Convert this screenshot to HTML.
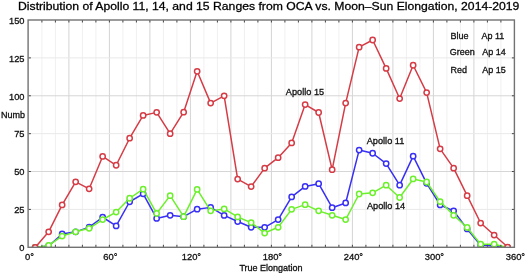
<!DOCTYPE html>
<html><head><meta charset="utf-8"><style>
html,body{margin:0;padding:0;background:#fff;}
body{width:525px;height:273px;overflow:hidden;}
svg{display:block;font-family:"Liberation Sans",sans-serif;}
</style></head><body>
<svg width="525" height="273" viewBox="0 0 525 273">
<rect width="525" height="273" fill="#fff"/>
<defs><clipPath id="c"><rect x="28.40" y="20.00" width="486.00" height="227.30"/></clipPath></defs>
<line x1="41.90" y1="20.00" x2="41.90" y2="247.30" stroke="#f0f0f0" stroke-width="1"/>
<line x1="55.40" y1="20.00" x2="55.40" y2="247.30" stroke="#f0f0f0" stroke-width="1"/>
<line x1="68.90" y1="20.00" x2="68.90" y2="247.30" stroke="#d4d4d4" stroke-width="1"/>
<line x1="82.40" y1="20.00" x2="82.40" y2="247.30" stroke="#f0f0f0" stroke-width="1"/>
<line x1="95.90" y1="20.00" x2="95.90" y2="247.30" stroke="#f0f0f0" stroke-width="1"/>
<line x1="109.40" y1="20.00" x2="109.40" y2="247.30" stroke="#d4d4d4" stroke-width="1"/>
<line x1="122.90" y1="20.00" x2="122.90" y2="247.30" stroke="#f0f0f0" stroke-width="1"/>
<line x1="136.40" y1="20.00" x2="136.40" y2="247.30" stroke="#f0f0f0" stroke-width="1"/>
<line x1="149.90" y1="20.00" x2="149.90" y2="247.30" stroke="#d4d4d4" stroke-width="1"/>
<line x1="163.40" y1="20.00" x2="163.40" y2="247.30" stroke="#f0f0f0" stroke-width="1"/>
<line x1="176.90" y1="20.00" x2="176.90" y2="247.30" stroke="#f0f0f0" stroke-width="1"/>
<line x1="190.40" y1="20.00" x2="190.40" y2="247.30" stroke="#d4d4d4" stroke-width="1"/>
<line x1="203.90" y1="20.00" x2="203.90" y2="247.30" stroke="#f0f0f0" stroke-width="1"/>
<line x1="217.40" y1="20.00" x2="217.40" y2="247.30" stroke="#f0f0f0" stroke-width="1"/>
<line x1="230.90" y1="20.00" x2="230.90" y2="247.30" stroke="#d4d4d4" stroke-width="1"/>
<line x1="244.40" y1="20.00" x2="244.40" y2="247.30" stroke="#f0f0f0" stroke-width="1"/>
<line x1="257.90" y1="20.00" x2="257.90" y2="247.30" stroke="#f0f0f0" stroke-width="1"/>
<line x1="271.40" y1="20.00" x2="271.40" y2="247.30" stroke="#d4d4d4" stroke-width="1"/>
<line x1="284.90" y1="20.00" x2="284.90" y2="247.30" stroke="#f0f0f0" stroke-width="1"/>
<line x1="298.40" y1="20.00" x2="298.40" y2="247.30" stroke="#f0f0f0" stroke-width="1"/>
<line x1="311.90" y1="20.00" x2="311.90" y2="247.30" stroke="#d4d4d4" stroke-width="1"/>
<line x1="325.40" y1="20.00" x2="325.40" y2="247.30" stroke="#f0f0f0" stroke-width="1"/>
<line x1="338.90" y1="20.00" x2="338.90" y2="247.30" stroke="#f0f0f0" stroke-width="1"/>
<line x1="352.40" y1="20.00" x2="352.40" y2="247.30" stroke="#d4d4d4" stroke-width="1"/>
<line x1="365.90" y1="20.00" x2="365.90" y2="247.30" stroke="#f0f0f0" stroke-width="1"/>
<line x1="379.40" y1="20.00" x2="379.40" y2="247.30" stroke="#f0f0f0" stroke-width="1"/>
<line x1="392.90" y1="20.00" x2="392.90" y2="247.30" stroke="#d4d4d4" stroke-width="1"/>
<line x1="406.40" y1="20.00" x2="406.40" y2="247.30" stroke="#f0f0f0" stroke-width="1"/>
<line x1="419.90" y1="20.00" x2="419.90" y2="247.30" stroke="#f0f0f0" stroke-width="1"/>
<line x1="433.40" y1="20.00" x2="433.40" y2="247.30" stroke="#d4d4d4" stroke-width="1"/>
<line x1="446.90" y1="20.00" x2="446.90" y2="247.30" stroke="#f0f0f0" stroke-width="1"/>
<line x1="460.40" y1="20.00" x2="460.40" y2="247.30" stroke="#f0f0f0" stroke-width="1"/>
<line x1="473.90" y1="20.00" x2="473.90" y2="247.30" stroke="#d4d4d4" stroke-width="1"/>
<line x1="487.40" y1="20.00" x2="487.40" y2="247.30" stroke="#f0f0f0" stroke-width="1"/>
<line x1="500.90" y1="20.00" x2="500.90" y2="247.30" stroke="#f0f0f0" stroke-width="1"/>
<line x1="28.40" y1="209.42" x2="514.40" y2="209.42" stroke="#e9e9e9" stroke-width="1"/>
<line x1="28.40" y1="171.53" x2="514.40" y2="171.53" stroke="#d6d6d6" stroke-width="1"/>
<line x1="28.40" y1="133.65" x2="514.40" y2="133.65" stroke="#e9e9e9" stroke-width="1"/>
<line x1="28.40" y1="95.77" x2="514.40" y2="95.77" stroke="#d6d6d6" stroke-width="1"/>
<line x1="28.40" y1="57.88" x2="514.40" y2="57.88" stroke="#e9e9e9" stroke-width="1"/>
<g clip-path="url(#c)">
<polyline fill="none" stroke="#3830f5" stroke-width="1.5" stroke-linejoin="round" points="35.15,247.50 48.65,245.98 62.15,233.97 75.65,231.84 89.15,227.13 102.65,217.25 116.15,225.92 129.65,201.75 143.15,193.84 156.65,218.47 170.15,215.28 183.65,216.64 197.15,209.20 210.65,207.37 224.15,215.43 237.65,221.51 251.15,227.28 264.65,227.28 278.15,219.53 291.65,196.88 305.15,186.40 318.65,183.66 332.15,207.68 345.65,202.96 359.15,150.07 372.65,153.26 386.15,163.60 399.65,185.18 413.15,156.15 426.65,183.36 440.15,204.94 453.65,210.87 467.15,228.96 480.65,245.22 494.15,245.98 507.65,247.50"/><circle cx="35.15" cy="247.50" r="2.65" fill="#fff" stroke="#3830f5" stroke-width="1.5"/><circle cx="48.65" cy="245.98" r="2.65" fill="#fff" stroke="#3830f5" stroke-width="1.5"/><circle cx="62.15" cy="233.97" r="2.65" fill="#fff" stroke="#3830f5" stroke-width="1.5"/><circle cx="75.65" cy="231.84" r="2.65" fill="#fff" stroke="#3830f5" stroke-width="1.5"/><circle cx="89.15" cy="227.13" r="2.65" fill="#fff" stroke="#3830f5" stroke-width="1.5"/><circle cx="102.65" cy="217.25" r="2.65" fill="#fff" stroke="#3830f5" stroke-width="1.5"/><circle cx="116.15" cy="225.92" r="2.65" fill="#fff" stroke="#3830f5" stroke-width="1.5"/><circle cx="129.65" cy="201.75" r="2.65" fill="#fff" stroke="#3830f5" stroke-width="1.5"/><circle cx="143.15" cy="193.84" r="2.65" fill="#fff" stroke="#3830f5" stroke-width="1.5"/><circle cx="156.65" cy="218.47" r="2.65" fill="#fff" stroke="#3830f5" stroke-width="1.5"/><circle cx="170.15" cy="215.28" r="2.65" fill="#fff" stroke="#3830f5" stroke-width="1.5"/><circle cx="183.65" cy="216.64" r="2.65" fill="#fff" stroke="#3830f5" stroke-width="1.5"/><circle cx="197.15" cy="209.20" r="2.65" fill="#fff" stroke="#3830f5" stroke-width="1.5"/><circle cx="210.65" cy="207.37" r="2.65" fill="#fff" stroke="#3830f5" stroke-width="1.5"/><circle cx="224.15" cy="215.43" r="2.65" fill="#fff" stroke="#3830f5" stroke-width="1.5"/><circle cx="237.65" cy="221.51" r="2.65" fill="#fff" stroke="#3830f5" stroke-width="1.5"/><circle cx="251.15" cy="227.28" r="2.65" fill="#fff" stroke="#3830f5" stroke-width="1.5"/><circle cx="264.65" cy="227.28" r="2.65" fill="#fff" stroke="#3830f5" stroke-width="1.5"/><circle cx="278.15" cy="219.53" r="2.65" fill="#fff" stroke="#3830f5" stroke-width="1.5"/><circle cx="291.65" cy="196.88" r="2.65" fill="#fff" stroke="#3830f5" stroke-width="1.5"/><circle cx="305.15" cy="186.40" r="2.65" fill="#fff" stroke="#3830f5" stroke-width="1.5"/><circle cx="318.65" cy="183.66" r="2.65" fill="#fff" stroke="#3830f5" stroke-width="1.5"/><circle cx="332.15" cy="207.68" r="2.65" fill="#fff" stroke="#3830f5" stroke-width="1.5"/><circle cx="345.65" cy="202.96" r="2.65" fill="#fff" stroke="#3830f5" stroke-width="1.5"/><circle cx="359.15" cy="150.07" r="2.65" fill="#fff" stroke="#3830f5" stroke-width="1.5"/><circle cx="372.65" cy="153.26" r="2.65" fill="#fff" stroke="#3830f5" stroke-width="1.5"/><circle cx="386.15" cy="163.60" r="2.65" fill="#fff" stroke="#3830f5" stroke-width="1.5"/><circle cx="399.65" cy="185.18" r="2.65" fill="#fff" stroke="#3830f5" stroke-width="1.5"/><circle cx="413.15" cy="156.15" r="2.65" fill="#fff" stroke="#3830f5" stroke-width="1.5"/><circle cx="426.65" cy="183.36" r="2.65" fill="#fff" stroke="#3830f5" stroke-width="1.5"/><circle cx="440.15" cy="204.94" r="2.65" fill="#fff" stroke="#3830f5" stroke-width="1.5"/><circle cx="453.65" cy="210.87" r="2.65" fill="#fff" stroke="#3830f5" stroke-width="1.5"/><circle cx="467.15" cy="228.96" r="2.65" fill="#fff" stroke="#3830f5" stroke-width="1.5"/><circle cx="480.65" cy="245.22" r="2.65" fill="#fff" stroke="#3830f5" stroke-width="1.5"/><circle cx="494.15" cy="245.98" r="2.65" fill="#fff" stroke="#3830f5" stroke-width="1.5"/><circle cx="507.65" cy="247.50" r="2.65" fill="#fff" stroke="#3830f5" stroke-width="1.5"/>
<polyline fill="none" stroke="#6cf02c" stroke-width="1.5" stroke-linejoin="round" points="35.15,247.50 48.65,245.37 62.15,236.10 75.65,231.84 89.15,228.35 102.65,219.53 116.15,212.08 129.65,198.25 143.15,189.13 156.65,213.45 170.15,195.67 183.65,216.64 197.15,189.44 210.65,210.87 224.15,208.89 237.65,216.95 251.15,222.57 264.65,233.06 278.15,227.28 291.65,209.35 305.15,204.64 318.65,210.87 332.15,215.28 345.65,219.53 359.15,194.00 372.65,192.78 386.15,185.18 399.65,197.49 413.15,178.95 426.65,181.99 440.15,201.60 453.65,215.28 467.15,227.44 480.65,244.16 494.15,244.16 507.65,247.50"/><circle cx="35.15" cy="247.50" r="2.65" fill="#fff" stroke="#6cf02c" stroke-width="1.5"/><circle cx="48.65" cy="245.37" r="2.65" fill="#fff" stroke="#6cf02c" stroke-width="1.5"/><circle cx="62.15" cy="236.10" r="2.65" fill="#fff" stroke="#6cf02c" stroke-width="1.5"/><circle cx="75.65" cy="231.84" r="2.65" fill="#fff" stroke="#6cf02c" stroke-width="1.5"/><circle cx="89.15" cy="228.35" r="2.65" fill="#fff" stroke="#6cf02c" stroke-width="1.5"/><circle cx="102.65" cy="219.53" r="2.65" fill="#fff" stroke="#6cf02c" stroke-width="1.5"/><circle cx="116.15" cy="212.08" r="2.65" fill="#fff" stroke="#6cf02c" stroke-width="1.5"/><circle cx="129.65" cy="198.25" r="2.65" fill="#fff" stroke="#6cf02c" stroke-width="1.5"/><circle cx="143.15" cy="189.13" r="2.65" fill="#fff" stroke="#6cf02c" stroke-width="1.5"/><circle cx="156.65" cy="213.45" r="2.65" fill="#fff" stroke="#6cf02c" stroke-width="1.5"/><circle cx="170.15" cy="195.67" r="2.65" fill="#fff" stroke="#6cf02c" stroke-width="1.5"/><circle cx="183.65" cy="216.64" r="2.65" fill="#fff" stroke="#6cf02c" stroke-width="1.5"/><circle cx="197.15" cy="189.44" r="2.65" fill="#fff" stroke="#6cf02c" stroke-width="1.5"/><circle cx="210.65" cy="210.87" r="2.65" fill="#fff" stroke="#6cf02c" stroke-width="1.5"/><circle cx="224.15" cy="208.89" r="2.65" fill="#fff" stroke="#6cf02c" stroke-width="1.5"/><circle cx="237.65" cy="216.95" r="2.65" fill="#fff" stroke="#6cf02c" stroke-width="1.5"/><circle cx="251.15" cy="222.57" r="2.65" fill="#fff" stroke="#6cf02c" stroke-width="1.5"/><circle cx="264.65" cy="233.06" r="2.65" fill="#fff" stroke="#6cf02c" stroke-width="1.5"/><circle cx="278.15" cy="227.28" r="2.65" fill="#fff" stroke="#6cf02c" stroke-width="1.5"/><circle cx="291.65" cy="209.35" r="2.65" fill="#fff" stroke="#6cf02c" stroke-width="1.5"/><circle cx="305.15" cy="204.64" r="2.65" fill="#fff" stroke="#6cf02c" stroke-width="1.5"/><circle cx="318.65" cy="210.87" r="2.65" fill="#fff" stroke="#6cf02c" stroke-width="1.5"/><circle cx="332.15" cy="215.28" r="2.65" fill="#fff" stroke="#6cf02c" stroke-width="1.5"/><circle cx="345.65" cy="219.53" r="2.65" fill="#fff" stroke="#6cf02c" stroke-width="1.5"/><circle cx="359.15" cy="194.00" r="2.65" fill="#fff" stroke="#6cf02c" stroke-width="1.5"/><circle cx="372.65" cy="192.78" r="2.65" fill="#fff" stroke="#6cf02c" stroke-width="1.5"/><circle cx="386.15" cy="185.18" r="2.65" fill="#fff" stroke="#6cf02c" stroke-width="1.5"/><circle cx="399.65" cy="197.49" r="2.65" fill="#fff" stroke="#6cf02c" stroke-width="1.5"/><circle cx="413.15" cy="178.95" r="2.65" fill="#fff" stroke="#6cf02c" stroke-width="1.5"/><circle cx="426.65" cy="181.99" r="2.65" fill="#fff" stroke="#6cf02c" stroke-width="1.5"/><circle cx="440.15" cy="201.60" r="2.65" fill="#fff" stroke="#6cf02c" stroke-width="1.5"/><circle cx="453.65" cy="215.28" r="2.65" fill="#fff" stroke="#6cf02c" stroke-width="1.5"/><circle cx="467.15" cy="227.44" r="2.65" fill="#fff" stroke="#6cf02c" stroke-width="1.5"/><circle cx="480.65" cy="244.16" r="2.65" fill="#fff" stroke="#6cf02c" stroke-width="1.5"/><circle cx="494.15" cy="244.16" r="2.65" fill="#fff" stroke="#6cf02c" stroke-width="1.5"/><circle cx="507.65" cy="247.50" r="2.65" fill="#fff" stroke="#6cf02c" stroke-width="1.5"/>
<polyline fill="none" stroke="#d53c46" stroke-width="1.5" stroke-linejoin="round" points="35.15,247.50 48.65,231.84 62.15,204.94 75.65,181.84 89.15,188.83 102.65,156.45 116.15,165.27 129.65,138.21 143.15,115.41 156.65,112.37 170.15,133.65 183.65,112.22 197.15,71.33 210.65,103.10 224.15,95.80 237.65,179.10 251.15,186.55 264.65,168.16 278.15,157.67 291.65,142.92 305.15,104.62 318.65,112.52 332.15,169.68 345.65,103.10 359.15,47.16 372.65,40.02 386.15,68.44 399.65,98.54 413.15,65.25 426.65,92.61 440.15,148.85 453.65,168.16 467.15,195.67 480.65,223.03 494.15,235.04 507.65,247.04"/><circle cx="35.15" cy="247.50" r="2.65" fill="#fff" stroke="#d53c46" stroke-width="1.5"/><circle cx="48.65" cy="231.84" r="2.65" fill="#fff" stroke="#d53c46" stroke-width="1.5"/><circle cx="62.15" cy="204.94" r="2.65" fill="#fff" stroke="#d53c46" stroke-width="1.5"/><circle cx="75.65" cy="181.84" r="2.65" fill="#fff" stroke="#d53c46" stroke-width="1.5"/><circle cx="89.15" cy="188.83" r="2.65" fill="#fff" stroke="#d53c46" stroke-width="1.5"/><circle cx="102.65" cy="156.45" r="2.65" fill="#fff" stroke="#d53c46" stroke-width="1.5"/><circle cx="116.15" cy="165.27" r="2.65" fill="#fff" stroke="#d53c46" stroke-width="1.5"/><circle cx="129.65" cy="138.21" r="2.65" fill="#fff" stroke="#d53c46" stroke-width="1.5"/><circle cx="143.15" cy="115.41" r="2.65" fill="#fff" stroke="#d53c46" stroke-width="1.5"/><circle cx="156.65" cy="112.37" r="2.65" fill="#fff" stroke="#d53c46" stroke-width="1.5"/><circle cx="170.15" cy="133.65" r="2.65" fill="#fff" stroke="#d53c46" stroke-width="1.5"/><circle cx="183.65" cy="112.22" r="2.65" fill="#fff" stroke="#d53c46" stroke-width="1.5"/><circle cx="197.15" cy="71.33" r="2.65" fill="#fff" stroke="#d53c46" stroke-width="1.5"/><circle cx="210.65" cy="103.10" r="2.65" fill="#fff" stroke="#d53c46" stroke-width="1.5"/><circle cx="224.15" cy="95.80" r="2.65" fill="#fff" stroke="#d53c46" stroke-width="1.5"/><circle cx="237.65" cy="179.10" r="2.65" fill="#fff" stroke="#d53c46" stroke-width="1.5"/><circle cx="251.15" cy="186.55" r="2.65" fill="#fff" stroke="#d53c46" stroke-width="1.5"/><circle cx="264.65" cy="168.16" r="2.65" fill="#fff" stroke="#d53c46" stroke-width="1.5"/><circle cx="278.15" cy="157.67" r="2.65" fill="#fff" stroke="#d53c46" stroke-width="1.5"/><circle cx="291.65" cy="142.92" r="2.65" fill="#fff" stroke="#d53c46" stroke-width="1.5"/><circle cx="305.15" cy="104.62" r="2.65" fill="#fff" stroke="#d53c46" stroke-width="1.5"/><circle cx="318.65" cy="112.52" r="2.65" fill="#fff" stroke="#d53c46" stroke-width="1.5"/><circle cx="332.15" cy="169.68" r="2.65" fill="#fff" stroke="#d53c46" stroke-width="1.5"/><circle cx="345.65" cy="103.10" r="2.65" fill="#fff" stroke="#d53c46" stroke-width="1.5"/><circle cx="359.15" cy="47.16" r="2.65" fill="#fff" stroke="#d53c46" stroke-width="1.5"/><circle cx="372.65" cy="40.02" r="2.65" fill="#fff" stroke="#d53c46" stroke-width="1.5"/><circle cx="386.15" cy="68.44" r="2.65" fill="#fff" stroke="#d53c46" stroke-width="1.5"/><circle cx="399.65" cy="98.54" r="2.65" fill="#fff" stroke="#d53c46" stroke-width="1.5"/><circle cx="413.15" cy="65.25" r="2.65" fill="#fff" stroke="#d53c46" stroke-width="1.5"/><circle cx="426.65" cy="92.61" r="2.65" fill="#fff" stroke="#d53c46" stroke-width="1.5"/><circle cx="440.15" cy="148.85" r="2.65" fill="#fff" stroke="#d53c46" stroke-width="1.5"/><circle cx="453.65" cy="168.16" r="2.65" fill="#fff" stroke="#d53c46" stroke-width="1.5"/><circle cx="467.15" cy="195.67" r="2.65" fill="#fff" stroke="#d53c46" stroke-width="1.5"/><circle cx="480.65" cy="223.03" r="2.65" fill="#fff" stroke="#d53c46" stroke-width="1.5"/><circle cx="494.15" cy="235.04" r="2.65" fill="#fff" stroke="#d53c46" stroke-width="1.5"/><circle cx="507.65" cy="247.04" r="2.65" fill="#fff" stroke="#d53c46" stroke-width="1.5"/>
</g>
<path d="M41.90 20.00v2.5M41.90 247.30v-2.5M55.40 20.00v2.5M55.40 247.30v-2.5M68.90 20.00v2.5M68.90 247.30v-2.5M82.40 20.00v2.5M82.40 247.30v-2.5M95.90 20.00v2.5M95.90 247.30v-2.5M109.40 20.00v2.5M109.40 247.30v-2.5M122.90 20.00v2.5M122.90 247.30v-2.5M136.40 20.00v2.5M136.40 247.30v-2.5M149.90 20.00v2.5M149.90 247.30v-2.5M163.40 20.00v2.5M163.40 247.30v-2.5M176.90 20.00v2.5M176.90 247.30v-2.5M190.40 20.00v2.5M190.40 247.30v-2.5M203.90 20.00v2.5M203.90 247.30v-2.5M217.40 20.00v2.5M217.40 247.30v-2.5M230.90 20.00v2.5M230.90 247.30v-2.5M244.40 20.00v2.5M244.40 247.30v-2.5M257.90 20.00v2.5M257.90 247.30v-2.5M271.40 20.00v2.5M271.40 247.30v-2.5M284.90 20.00v2.5M284.90 247.30v-2.5M298.40 20.00v2.5M298.40 247.30v-2.5M311.90 20.00v2.5M311.90 247.30v-2.5M325.40 20.00v2.5M325.40 247.30v-2.5M338.90 20.00v2.5M338.90 247.30v-2.5M352.40 20.00v2.5M352.40 247.30v-2.5M365.90 20.00v2.5M365.90 247.30v-2.5M379.40 20.00v2.5M379.40 247.30v-2.5M392.90 20.00v2.5M392.90 247.30v-2.5M406.40 20.00v2.5M406.40 247.30v-2.5M419.90 20.00v2.5M419.90 247.30v-2.5M433.40 20.00v2.5M433.40 247.30v-2.5M446.90 20.00v2.5M446.90 247.30v-2.5M460.40 20.00v2.5M460.40 247.30v-2.5M473.90 20.00v2.5M473.90 247.30v-2.5M487.40 20.00v2.5M487.40 247.30v-2.5M500.90 20.00v2.5M500.90 247.30v-2.5M28.40 209.42h2.5M514.40 209.42h-2.5M28.40 171.53h2.5M514.40 171.53h-2.5M28.40 133.65h2.5M514.40 133.65h-2.5M28.40 95.77h2.5M514.40 95.77h-2.5M28.40 57.88h2.5M514.40 57.88h-2.5" stroke="#444" stroke-width="1" fill="none"/>
<rect x="28.1" y="20.00" width="486.30" height="227.30" fill="none" stroke="#727272" stroke-width="1.4"/>
<g font-size="9" fill="#111" stroke="#111" stroke-width="0.3" style="filter:grayscale(1)">
<text transform="translate(24.5,251.10) scale(1,1.07)" text-anchor="end" font-size="9.3">0</text>
<text transform="translate(24.5,213.22) scale(1,1.07)" text-anchor="end" font-size="9.3">25</text>
<text transform="translate(24.5,175.33) scale(1,1.07)" text-anchor="end" font-size="9.3">50</text>
<text transform="translate(24.5,137.45) scale(1,1.07)" text-anchor="end" font-size="9.3">75</text>
<text transform="translate(24.5,99.57) scale(1,1.07)" text-anchor="end" font-size="9.3">100</text>
<text transform="translate(24.5,61.68) scale(1,1.07)" text-anchor="end" font-size="9.3">125</text>
<text transform="translate(24.5,23.80) scale(1,1.07)" text-anchor="end" font-size="9.3">150</text>
<text transform="translate(29.40,259.9) scale(1,1.06)" text-anchor="middle" font-size="9.4">0<tspan dy="0.2">&#176;</tspan></text>
<text transform="translate(110.40,259.9) scale(1,1.06)" text-anchor="middle" font-size="9.4">60<tspan dy="0.2">&#176;</tspan></text>
<text transform="translate(191.40,259.9) scale(1,1.06)" text-anchor="middle" font-size="9.4">120<tspan dy="0.2">&#176;</tspan></text>
<text transform="translate(272.40,259.9) scale(1,1.06)" text-anchor="middle" font-size="9.4">180<tspan dy="0.2">&#176;</tspan></text>
<text transform="translate(353.40,259.9) scale(1,1.06)" text-anchor="middle" font-size="9.4">240<tspan dy="0.2">&#176;</tspan></text>
<text transform="translate(434.40,259.9) scale(1,1.06)" text-anchor="middle" font-size="9.4">300<tspan dy="0.2">&#176;</tspan></text>
<text transform="translate(515.40,259.9) scale(1,1.06)" text-anchor="middle" font-size="9.4">360<tspan dy="0.2">&#176;</tspan></text>
<text transform="translate(1,118) scale(1,1.07)">Numb</text>
<text transform="translate(271,270.5) scale(1,1.07)" text-anchor="middle" font-size="9">True Elongation</text>
<text transform="translate(285.8,94.8) scale(1,1.07)" font-size="9.2">Apollo 15</text>
<text transform="translate(366.7,143.5) scale(1,1.07)" font-size="9.2">Apollo 11</text>
<text transform="translate(366.9,208.5) scale(1,1.07)" font-size="9.2">Apollo 14</text>
<text transform="translate(450.5,38.6) scale(1,1.07)">Blue</text><text transform="translate(481.5,38.6) scale(1,1.07)">Ap 11</text>
<text transform="translate(449.7,55) scale(1,1.07)">Green</text><text transform="translate(482.3,55) scale(1,1.07)">Ap 14</text>
<text transform="translate(450.5,72.8) scale(1,1.07)">Red</text><text transform="translate(482.3,72.8) scale(1,1.07)">Ap 15</text>
</g>
<text transform="translate(268.7,10.0) scale(1,0.88)" text-anchor="middle" font-size="12.2" fill="#000" stroke="#000" stroke-width="0.3" style="filter:grayscale(1)">Distribution of Apollo 11, 14, and 15 Ranges from OCA vs. Moon&#8211;Sun Elongation, 2014-2019</text>
</svg>
</body></html>
